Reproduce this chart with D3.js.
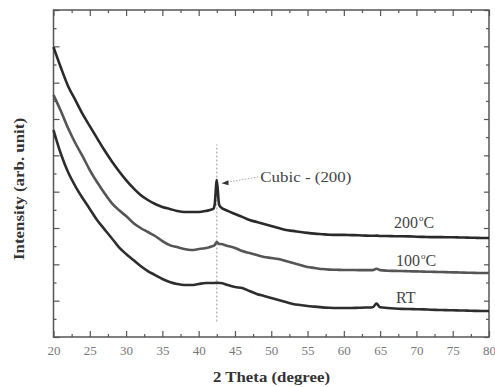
<!DOCTYPE html>
<html>
  <head>
    <meta charset="utf-8">
    <title>xrd</title>
    <script src="https://d3js.org/d3.v7.min.js"></script>
    <style>
      body { margin: 0; background: #fff; }
      svg { display: block; }
    </style>
  </head>
  <body>
    <script type="text/javascript">

      //Width and height
      var w = 495;
      var h = 387;
      var margin = { top: 10, right: 6, bottom: 50, left: 53.5 };

      //2 theta positions (degree)
      var twoTheta = [20, 21, 22, 23, 24, 25, 26, 27, 28, 29, 30, 31, 32, 33, 34, 35, 36, 37, 38, 39, 40, 41, 42,
                      42.2, 42.5, 42.8,
                      43, 44, 45, 46, 47, 48, 49, 50, 51, 52, 53, 54, 55, 56, 57, 58, 59, 60, 61, 62, 63, 64,
                      64.5,
                      65, 66, 67, 68, 69, 70, 71, 72, 73, 74, 75, 76, 77, 78, 79, 80];

      //Intensity (arb. unit), curves stacked with offsets as in the figure
      var int200 = [15.96, 14.85, 13.82, 13.05, 12.28, 11.61, 10.95, 10.29, 9.69, 9.14, 8.64, 8.20, 7.82, 7.54, 7.32, 7.16, 7.05, 6.94, 6.88, 6.88, 6.88, 6.94, 7.05,
                    7.27, 8.64, 7.32,
                    7.16, 6.94, 6.77, 6.61, 6.44, 6.33, 6.22, 6.11, 6.00, 5.89, 5.84, 5.78, 5.73, 5.69, 5.66, 5.63, 5.62, 5.62, 5.61, 5.60, 5.58, 5.57,
                    5.58,
                    5.56, 5.56, 5.55, 5.55, 5.54, 5.52, 5.51, 5.50, 5.50, 5.49, 5.49, 5.48, 5.47, 5.46, 5.45, 5.45];

      var int100 = [13.32, 12.45, 11.50, 10.68, 9.96, 9.19, 8.53, 7.93, 7.38, 6.99, 6.66, 6.28, 6.00, 5.78, 5.56, 5.28, 5.06, 4.95, 4.84, 4.79, 4.84, 4.90, 5.01,
                    5.06, 5.23, 5.12,
                    5.12, 5.01, 4.90, 4.73, 4.62, 4.51, 4.40, 4.35, 4.29, 4.18, 4.07, 3.96, 3.85, 3.80, 3.74, 3.71, 3.70, 3.69, 3.69, 3.68, 3.68, 3.68,
                    3.76,
                    3.68, 3.65, 3.64, 3.63, 3.62, 3.61, 3.60, 3.59, 3.58, 3.57, 3.56, 3.55, 3.54, 3.53, 3.52, 3.52];

      var intRT = [11.39, 10.10, 9.08, 8.31, 7.65, 7.05, 6.44, 5.94, 5.45, 4.95, 4.57, 4.24, 3.91, 3.63, 3.41, 3.19, 3.03, 2.92, 2.86, 2.86, 2.92, 2.97, 2.97,
                   2.97, 2.99, 2.97,
                   2.97, 2.86, 2.75, 2.70, 2.53, 2.37, 2.26, 2.15, 2.04, 1.93, 1.82, 1.76, 1.71, 1.67, 1.63, 1.61, 1.60, 1.60, 1.60, 1.61, 1.62, 1.64,
                   1.84,
                   1.64, 1.60, 1.57, 1.55, 1.54, 1.53, 1.52, 1.50, 1.49, 1.48, 1.47, 1.46, 1.45, 1.44, 1.43, 1.43];

      var seriesNames = ["200", "100", "RT"];
      var seriesColors = ["#2a2a2a", "#555555", "#2e2e2e"];

      //Tick values
      var xMajor = [20, 25, 30, 35, 40, 45, 50, 55, 60, 65, 70, 75, 80];
      var xMinor = [22.5, 27.5, 32.5, 37.5, 42.5, 47.5, 52.5, 57.5, 62.5, 67.5, 72.5, 77.5];
      var yMajor = [0, 2, 4, 6, 8, 10, 12, 14, 16, 18];
      var yMinor = [1, 3, 5, 7, 9, 11, 13, 15, 17];

      //Cubic (200) marker
      var peakTheta = 42.5;
      var peakLineRange = [0.85, 10.6];

      //Create scales
      var xScale = d3.scaleLinear()
                     .domain([20, 80])
                     .range([margin.left, w - margin.right]);

      var yScale = d3.scaleLinear()
                     .domain([0, 18])
                     .range([h - margin.bottom, margin.top]);

      //Create SVG element
      var svg = d3.select("body")
                  .append("svg")
                  .attr("width", w)
                  .attr("height", h);

      var serif = "'Liberation Serif', 'DejaVu Serif', serif";
      var axisColor = "#555";

      //Axes helper
      function drawAxis(axis, tx, ty) {
        var g = svg.append("g")
                   .attr("transform", "translate(" + tx + "," + ty + ")")
                   .call(axis);
        g.select(".domain").remove();
        g.selectAll("line").attr("stroke", axisColor).attr("stroke-width", 1.2);
        g.selectAll("text")
         .attr("font-family", serif)
         .attr("font-size", "13px")
         .attr("fill", "#777");
        return g;
      }

      var bottomY = yScale(0);
      var topY = yScale(18);
      var leftX = xScale(20);
      var rightX = xScale(80);

      //Bottom axis with labels
      drawAxis(d3.axisBottom(xScale).tickValues(xMajor).tickSizeInner(-6).tickSizeOuter(0).tickPadding(9), 0, bottomY);
      drawAxis(d3.axisBottom(xScale).tickValues(xMinor).tickSizeInner(-3).tickSizeOuter(0).tickFormat(""), 0, bottomY);

      //Top axis, ticks only
      drawAxis(d3.axisTop(xScale).tickValues(xMajor).tickSizeInner(-6).tickSizeOuter(0).tickFormat(""), 0, topY);
      drawAxis(d3.axisTop(xScale).tickValues(xMinor).tickSizeInner(-3).tickSizeOuter(0).tickFormat(""), 0, topY);

      //Left axis, ticks only
      drawAxis(d3.axisLeft(yScale).tickValues(yMajor).tickSizeInner(-6).tickSizeOuter(0).tickFormat(""), leftX, 0);
      drawAxis(d3.axisLeft(yScale).tickValues(yMinor).tickSizeInner(-3).tickSizeOuter(0).tickFormat(""), leftX, 0);

      //Right axis, ticks only
      drawAxis(d3.axisRight(yScale).tickValues(yMajor).tickSizeInner(-5).tickSizeOuter(0).tickFormat(""), rightX, 0);
      drawAxis(d3.axisRight(yScale).tickValues(yMinor).tickSizeInner(-3).tickSizeOuter(0).tickFormat(""), rightX, 0);

      //Frame
      svg.append("rect")
         .attr("x", leftX)
         .attr("y", topY)
         .attr("width", rightX - leftX)
         .attr("height", bottomY - topY)
         .attr("fill", "none")
         .attr("stroke", axisColor)
         .attr("stroke-width", 1.5);

      //Dotted line at the cubic (200) position
      svg.append("line")
         .attr("x1", xScale(peakTheta))
         .attr("x2", xScale(peakTheta))
         .attr("y1", yScale(peakLineRange[0]))
         .attr("y2", yScale(peakLineRange[1]))
         .attr("stroke", "#999")
         .attr("stroke-width", 1)
         .attr("stroke-dasharray", "2,2");

      //Curves
      var line = d3.line()
                   .x(function(d) { return xScale(d[0]); })
                   .y(function(d) { return yScale(d[1]); })
                   .curve(d3.curveMonotoneX);

      var seriesValues = [int200, int100, intRT];

      svg.selectAll("path.curve")
         .data(seriesValues)
         .enter()
         .append("path")
         .attr("class", "curve")
         .attr("d", function(d) {
            return line(twoTheta.map(function(t, i) { return [t, d[i]]; }));
         })
         .attr("fill", "none")
         .attr("stroke", function(d, i) { return seriesColors[i]; })
         .attr("stroke-width", 2.6)
         .attr("stroke-linejoin", "round");

      //Curve labels
      var labelPos = [[66.9, 6.0], [67.2, 3.9], [67.2, 1.87]];

      seriesNames.forEach(function(name, i) {
        var t = svg.append("text")
                   .attr("x", xScale(labelPos[i][0]))
                   .attr("y", yScale(labelPos[i][1]))
                   .attr("font-family", serif)
                   .attr("font-size", "16px")
                   .attr("fill", "#444");
        if (name === "RT") {
          t.text("RT");
        } else {
          t.append("tspan").text(name);
          t.append("tspan").attr("font-size", "9px").attr("dy", "-7").attr("dx", "1").text("o");
          t.append("tspan").attr("dy", "7").text("C");
        }
      });

      //Cubic - (200) annotation
      svg.append("line")
         .attr("x1", xScale(48.2))
         .attr("y1", yScale(8.81))
         .attr("x2", xScale(43.6))
         .attr("y2", yScale(8.50))
         .attr("stroke", "#aaa")
         .attr("stroke-width", 1)
         .attr("stroke-dasharray", "1.5,1.5");

      var ax = xScale(43.15), ay = yScale(8.47);
      svg.append("path")
         .attr("d", "M" + ax + "," + ay + "l7,-3l0,5z")
         .attr("fill", "#333");

      svg.append("text")
         .attr("x", xScale(48.5))
         .attr("y", yScale(8.53))
         .attr("font-family", serif)
         .attr("font-size", "15px")
         .attr("fill", "#444")
         .attr("textLength", 91)
         .attr("lengthAdjust", "spacingAndGlyphs")
         .text("Cubic - (200)");

      //Axis titles
      svg.append("text")
         .attr("x", 271.5)
         .attr("y", 382)
         .attr("text-anchor", "middle")
         .attr("font-family", serif)
         .attr("font-weight", "bold")
         .attr("font-size", "15px")
         .attr("fill", "#333")
         .attr("textLength", 117)
         .attr("lengthAdjust", "spacingAndGlyphs")
         .text("2 Theta (degree)");

      svg.append("text")
         .attr("transform", "translate(24,189) rotate(-90)")
         .attr("text-anchor", "middle")
         .attr("font-family", serif)
         .attr("font-weight", "bold")
         .attr("font-size", "15px")
         .attr("fill", "#333")
         .attr("textLength", 142)
         .attr("lengthAdjust", "spacingAndGlyphs")
         .text("Intensity (arb. unit)");

    </script>
  </body>
</html>
